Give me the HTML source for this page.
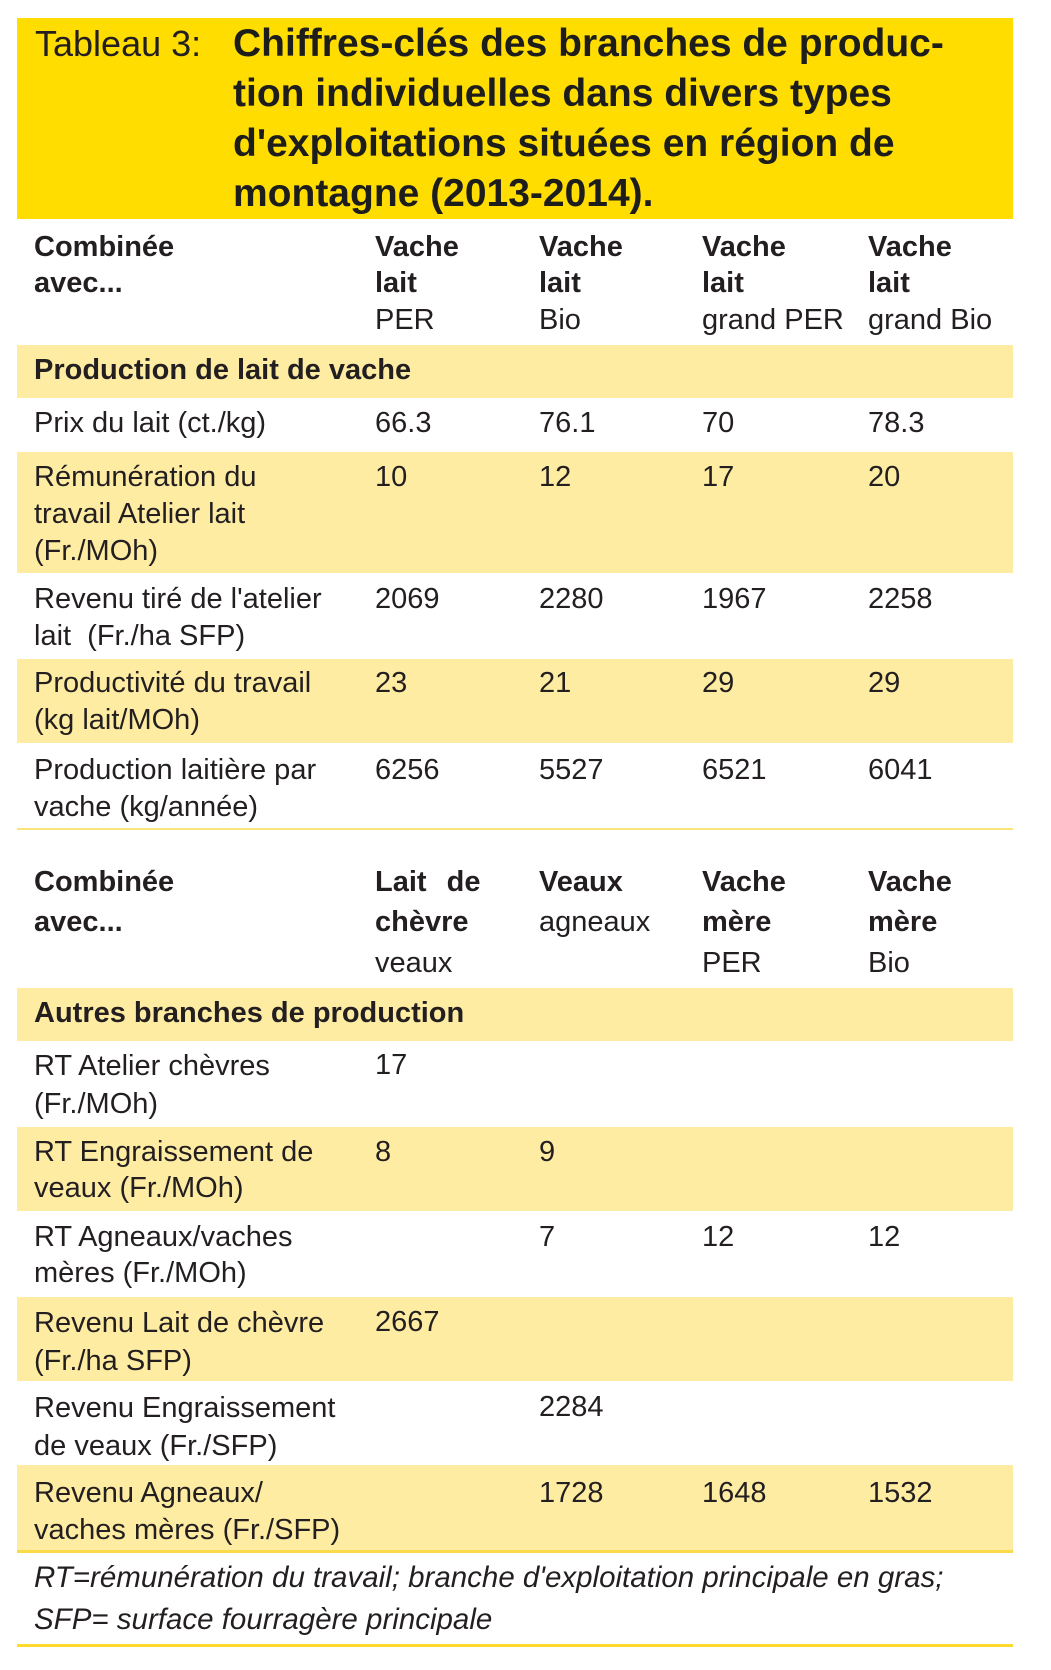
<!DOCTYPE html>
<html>
<head>
<meta charset="utf-8">
<style>
html,body{margin:0;padding:0;background:#fff;}
body{width:1051px;height:1670px;position:relative;overflow:hidden;font-family:"Liberation Sans",Arial,sans-serif;color:#231f20;}
.a{position:absolute;white-space:nowrap;}
.r{font-size:29px;line-height:37px;font-weight:normal;}
.b{font-size:29px;line-height:37px;font-weight:bold;}
.band{position:absolute;left:17px;width:996px;background:#feeca3;}
.line{position:absolute;left:17px;width:996px;}
</style>
</head>
<body>

<!-- Title box -->
<div class="a" style="left:17px;top:18px;width:996px;height:201px;background:#ffdd00;"></div>
<div class="a" style="left:35px;top:19px;font-size:36px;line-height:50px;color:#231f20;">Tableau 3:</div>
<div class="a" style="left:233px;top:18.5px;font-size:39px;line-height:50px;font-weight:bold;color:#1d1d1b;">Chiffres-clés des branches de produc-<br>tion individuelles dans divers types<br>d'exploitations situées en région de<br>montagne (2013-2014).</div>

<!-- Header 1 -->
<div class="a b" style="left:34px;top:228.5px;">Combinée</div>
<div class="a b" style="left:34px;top:264.5px;">avec...</div>

<div class="a b" style="left:375px;top:228.5px;">Vache</div>
<div class="a b" style="left:375px;top:264.5px;">lait</div>
<div class="a r" style="left:375px;top:301.5px;">PER</div>

<div class="a b" style="left:539px;top:228.5px;">Vache</div>
<div class="a b" style="left:539px;top:264.5px;">lait</div>
<div class="a r" style="left:539px;top:301.5px;">Bio</div>

<div class="a b" style="left:702px;top:228.5px;">Vache</div>
<div class="a b" style="left:702px;top:264.5px;">lait</div>
<div class="a r" style="left:702px;top:301.5px;">grand PER</div>

<div class="a b" style="left:868px;top:228.5px;">Vache</div>
<div class="a b" style="left:868px;top:264.5px;">lait</div>
<div class="a r" style="left:868px;top:301.5px;">grand Bio</div>

<!-- Section 1 band -->
<div class="band" style="top:345px;height:53px;"></div>
<div class="a b" style="left:34px;top:351.5px;">Production de lait de vache</div>

<!-- Prix -->
<div class="a r" style="left:34px;top:404.5px;">Prix du lait (ct./kg)</div>
<div class="a r" style="left:375px;top:404.5px;">66.3</div>
<div class="a r" style="left:539px;top:404.5px;">76.1</div>
<div class="a r" style="left:702px;top:404.5px;">70</div>
<div class="a r" style="left:868px;top:404.5px;">78.3</div>

<!-- Rémunération -->
<div class="band" style="top:452px;height:121px;"></div>
<div class="a r" style="left:34px;top:458.5px;">Rémunération du<br>travail Atelier lait<br>(Fr./MOh)</div>
<div class="a r" style="left:375px;top:458.5px;">10</div>
<div class="a r" style="left:539px;top:458.5px;">12</div>
<div class="a r" style="left:702px;top:458.5px;">17</div>
<div class="a r" style="left:868px;top:458.5px;">20</div>

<!-- Revenu tiré -->
<div class="a r" style="left:34px;top:580.5px;">Revenu tiré de l'atelier<br>lait&nbsp; (Fr./ha SFP)</div>
<div class="a r" style="left:375px;top:580.5px;">2069</div>
<div class="a r" style="left:539px;top:580.5px;">2280</div>
<div class="a r" style="left:702px;top:580.5px;">1967</div>
<div class="a r" style="left:868px;top:580.5px;">2258</div>

<!-- Productivité -->
<div class="band" style="top:659px;height:84px;"></div>
<div class="a r" style="left:34px;top:664.5px;">Productivité du travail<br>(kg lait/MOh)</div>
<div class="a r" style="left:375px;top:664.5px;">23</div>
<div class="a r" style="left:539px;top:664.5px;">21</div>
<div class="a r" style="left:702px;top:664.5px;">29</div>
<div class="a r" style="left:868px;top:664.5px;">29</div>

<!-- Production laitière -->
<div class="a r" style="left:34px;top:751.5px;">Production laitière par<br>vache (kg/année)</div>
<div class="a r" style="left:375px;top:751.5px;">6256</div>
<div class="a r" style="left:539px;top:751.5px;">5527</div>
<div class="a r" style="left:702px;top:751.5px;">6521</div>
<div class="a r" style="left:868px;top:751.5px;">6041</div>

<div class="line" style="top:828px;height:2px;background:#f8e47a;"></div>

<!-- Header 2 -->
<div class="a b" style="left:34px;top:863.5px;">Combinée</div>
<div class="a b" style="left:34px;top:903.5px;">avec...</div>

<div class="a b" style="left:375px;top:863.5px;word-spacing:12px;">Lait de</div>
<div class="a b" style="left:375px;top:903.5px;">chèvre</div>
<div class="a r" style="left:375px;top:944.5px;">veaux</div>

<div class="a b" style="left:539px;top:863.5px;">Veaux</div>
<div class="a r" style="left:539px;top:903.5px;">agneaux</div>

<div class="a b" style="left:702px;top:863.5px;">Vache</div>
<div class="a b" style="left:702px;top:903.5px;">mère</div>
<div class="a r" style="left:702px;top:944.5px;">PER</div>

<div class="a b" style="left:868px;top:863.5px;">Vache</div>
<div class="a b" style="left:868px;top:903.5px;">mère</div>
<div class="a r" style="left:868px;top:944.5px;">Bio</div>

<!-- Section 2 band -->
<div class="band" style="top:988px;height:53px;"></div>
<div class="a b" style="left:34px;top:994.5px;">Autres branches de production</div>

<!-- RT Atelier chèvres -->
<div class="a r" style="left:34px;top:1046.5px;line-height:38px;">RT Atelier chèvres<br>(Fr./MOh)</div>
<div class="a r" style="left:375px;top:1046.5px;">17</div>

<!-- RT Engraissement -->
<div class="band" style="top:1127px;height:84px;"></div>
<div class="a r" style="left:34px;top:1133.5px;line-height:36px;">RT Engraissement de<br>veaux (Fr./MOh)</div>
<div class="a r" style="left:375px;top:1133.5px;">8</div>
<div class="a r" style="left:539px;top:1133.5px;">9</div>

<!-- RT Agneaux -->
<div class="a r" style="left:34px;top:1218.5px;line-height:36px;">RT Agneaux/vaches<br>mères (Fr./MOh)</div>
<div class="a r" style="left:539px;top:1218.5px;">7</div>
<div class="a r" style="left:702px;top:1218.5px;">12</div>
<div class="a r" style="left:868px;top:1218.5px;">12</div>

<!-- Revenu Lait de chèvre -->
<div class="band" style="top:1297px;height:84px;"></div>
<div class="a r" style="left:34px;top:1303.5px;line-height:38px;">Revenu Lait de chèvre<br>(Fr./ha SFP)</div>
<div class="a r" style="left:375px;top:1303.5px;">2667</div>

<!-- Revenu Engraissement -->
<div class="a r" style="left:34px;top:1388.5px;line-height:38px;">Revenu Engraissement<br>de veaux (Fr./SFP)</div>
<div class="a r" style="left:539px;top:1388.5px;">2284</div>

<!-- Revenu Agneaux -->
<div class="band" style="top:1465px;height:85px;"></div>
<div class="a r" style="left:34px;top:1474.5px;">Revenu Agneaux/<br>vaches mères (Fr./SFP)</div>
<div class="a r" style="left:539px;top:1474.5px;">1728</div>
<div class="a r" style="left:702px;top:1474.5px;">1648</div>
<div class="a r" style="left:868px;top:1474.5px;">1532</div>

<div class="line" style="top:1550px;height:3px;background:#f9da48;"></div>

<!-- Footnote -->
<div class="a" style="left:34px;top:1557px;font-size:29.5px;line-height:42px;font-style:italic;">RT=rémunération du travail; branche d'exploitation principale en gras;<br>SFP= surface fourragère principale</div>

<div class="line" style="top:1644px;height:3px;background:#ffd92e;"></div>

</body>
</html>
